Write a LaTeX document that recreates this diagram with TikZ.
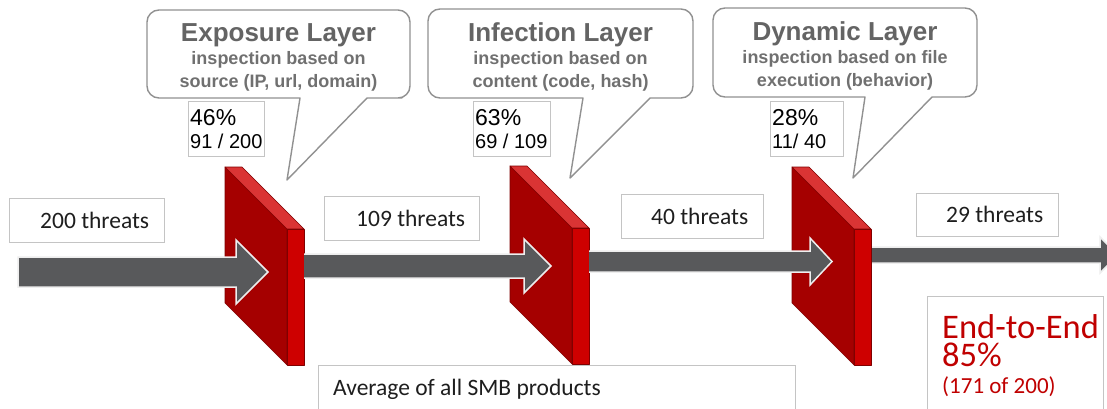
\documentclass[tikz,border=0pt]{standalone}
\usepackage{fontspec}
\setmainfont{Carlito}
\newfontfamily\arialfont{Liberation Sans}

\definecolor{wallfront}{RGB}{165,0,0}
\definecolor{walltop}{RGB}{218,52,52}
\definecolor{wallside}{RGB}{206,0,0}
\definecolor{walledge}{RGB}{128,0,0}
\definecolor{flowgray}{RGB}{88,89,91}
\definecolor{flowedge}{RGB}{238,238,238}
\definecolor{boxline}{RGB}{196,196,196}
\definecolor{callline}{RGB}{145,145,145}
\definecolor{calltitle}{RGB}{100,100,100}
\definecolor{callsub}{RGB}{112,112,112}
\definecolor{endred}{RGB}{192,0,0}
\definecolor{labeltext}{RGB}{30,30,30}

\begin{document}
\begin{tikzpicture}[x=1pt,y=-1pt,
  tbox/.style={draw=boxline, line width=1pt, fill=white, inner sep=0pt},
  callbubble/.style={draw=callline, line width=1.4pt, fill=white, line join=round},
  titletxt/.style={font=\arialfont\bfseries\fontsize{26pt}{28pt}\selectfont, text=calltitle, anchor=base, inner sep=0pt},
  subtxt/.style={font=\arialfont\bfseries\fontsize{18pt}{20pt}\selectfont, text=callsub, anchor=base, inner sep=0pt},
  pcttxt/.style={font=\arialfont\fontsize{23pt}{25pt}\selectfont, text=black, anchor=base west, inner sep=0pt},
  fractxt/.style={font=\arialfont\fontsize{20pt}{22pt}\selectfont, text=black, anchor=base west, inner sep=0pt},
  threattxt/.style={font=\fontsize{23.5pt}{26pt}\selectfont, text=labeltext, anchor=base west, inner sep=0pt},
  bigred/.style={font=\fontsize{34.5pt}{36pt}\selectfont, text=endred, anchor=base west, inner sep=0pt,
    text height=22pt, text depth=2pt},
  smallred/.style={font=\fontsize{23pt}{25pt}\selectfont, text=endred, anchor=base west, inner sep=0pt},
  flow/.style={fill=flowgray, draw=flowedge, line width=1.5pt, line join=miter},
  firewall/.pic={
    \filldraw[fill=wallfront, draw=walledge, line width=0.6pt, line join=round]
      (0,0) -- (62,62) -- (62,198) -- (0,136) -- cycle;
    \filldraw[fill=walltop, draw=walledge, line width=0.6pt, line join=round]
      (0,0) -- (17,0) -- (79,62) -- (62,62) -- cycle;
    \filldraw[fill=wallside, draw=walledge, line width=0.6pt, line join=round]
      (62,62) -- (79,62) -- (79,198) -- (62,198) -- cycle;
  }]
\clip (0,0) rectangle (1107,409);
\fill[white] (0,0) rectangle (1107,409);

% speech bubbles describing the three layers
\draw[callbubble] (287,180) -- (300,98) -- (250,98) [rounded corners=12pt] -- (147,98) -- (147,10)
  -- (410,10) -- (410,98) -- (390,98) [sharp corners] -- (367,98) -- cycle;
\draw[callbubble] (570,178) -- (583,98) -- (530,98) [rounded corners=12pt] -- (428,98) -- (428,9)
  -- (693,9) -- (693,98) -- (670,98) [sharp corners] -- (650,98) -- cycle;
\draw[callbubble] (853,178) -- (865,97) -- (810,97) [rounded corners=12pt] -- (713,97) -- (713,8)
  -- (977,8) -- (977,97) -- (950,97) [sharp corners] -- (932,97) -- cycle;

\node[titletxt] (t1) at (278.5,42) {Exposure Layer};
\node[subtxt] (s1a) at (278.5,65) {inspection based on};
\node[subtxt] (s1b) at (278.5,88) {source (IP, url, domain)};

\node[titletxt] (t2) at (560.5,42) {Infection Layer};
\node[subtxt] (s2a) at (560.5,65) {inspection based on};
\node[subtxt] (s2b) at (560.5,88) {content (code, hash)};

\node[titletxt] (t3) at (845,41) {Dynamic Layer};
\node[subtxt] (s3a) at (845,64) {inspection based on file};
\node[subtxt] (s3b) at (845,87) {execution (behavior)};

% detection rates per layer
\node[tbox, minimum width=76pt, minimum height=54pt] (p1) at (226,129) {};
\node[pcttxt] (p1a) at (190,125) {46\%};
\node[fractxt] (p1b) at (190,148) {91 / 200};

\node[tbox, minimum width=77pt, minimum height=54pt] (p2) at (511.5,129) {};
\node[pcttxt] (p2a) at (475,125) {63\%};
\node[fractxt] (p2b) at (475,148) {69 / 109};

\node[tbox, minimum width=73pt, minimum height=54pt] (p3) at (806.5,129) {};
\node[pcttxt] (p3a) at (772,125) {28\%};
\node[fractxt] (p3b) at (772,148) {11/ 40};

% threat counts between the layers
\node[tbox, minimum width=155pt, minimum height=44pt] (c1) at (86.5,220) {};
\node[threattxt] (c1t) at (40,228) {200 threats};
\node[tbox, minimum width=155pt, minimum height=44pt] (c2) at (401.5,218) {};
\node[threattxt] (c2t) at (356,226) {109 threats};
\node[tbox, minimum width=142pt, minimum height=44pt] (c3) at (692,216) {};
\node[threattxt] (c3t) at (651,224) {40 threats};
\node[tbox, minimum width=142pt, minimum height=43pt] (c4) at (987,214.5) {};
\node[threattxt] (c4t) at (946,222) {29 threats};

% the three walls
\pic (w1) at (225,167) {firewall};
\pic (w2) at (510,166) {firewall};
\pic (w3) at (792,167) {firewall};

% traffic flow, narrowing after each wall
\filldraw[flow] (18,257) -- (236,257) -- (236,240) -- (268,272) -- (236,304) -- (236,287) -- (18,287) -- cycle;
\filldraw[flow] (304,254) -- (524,254) -- (524,239) -- (551,266) -- (524,293) -- (524,278) -- (304,278);
\filldraw[flow] (589,251) -- (810,251) -- (810,238) -- (832,261.5) -- (810,285) -- (810,272) -- (589,272);
\filldraw[flow] (872,247) -- (1100,247) -- (1100,237) -- (1118,255) -- (1100,273) -- (1100,263) -- (872,263);

% summary boxes
\node[tbox, minimum width=477pt, minimum height=60pt] (avg) at (556.5,395) {};
\node[threattxt] (avgt) at (333,395) {Average of all SMB products};

\node[tbox, minimum width=176pt, minimum height=130pt] (e2e) at (1015,361) {};
\node[bigred] (e2ea) at (942,338) {End-to-End};
\node[bigred] (e2eb) at (942,366) {85\%};
\node[smallred] (e2ec) at (942,393) {(171 of 200)};
\end{tikzpicture}
\end{document}
